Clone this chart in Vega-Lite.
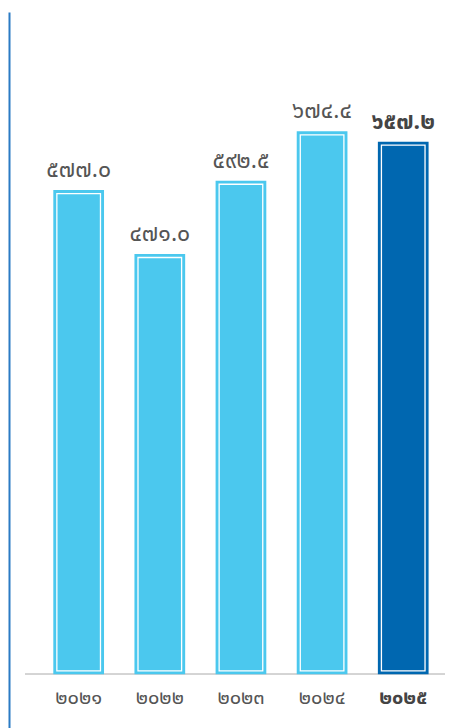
{
  "$schema": "https://vega.github.io/schema/vega-lite/v6.json",
  "width": 420,
  "height": 716,
  "autosize": {"type": "none"},
  "padding": {"left": 25, "top": 12, "right": 9, "bottom": 0},
  "background": "white",
  "config": {"view": {"stroke": null}, "font": "Noto Sans Thai"},
  "data": {
    "values": [
      {"year": "๒๐๒๑", "value": 577.0, "label": "๕๗๗.๐"},
      {"year": "๒๐๒๒", "value": 471.0, "label": "๔๗๑.๐"},
      {"year": "๒๐๒๓", "value": 592.5, "label": "๕๙๒.๕"},
      {"year": "๒๐๒๔", "value": 674.4, "label": "๖๗๔.๔"},
      {"year": "๒๐๒๕", "value": 657.2, "label": "๖๕๗.๒"}
    ]
  },
  "layer": [
    {
      "mark": {"type": "rule", "color": "#d4d4d4", "strokeWidth": 1.5},
      "encoding": {
        "y": {
          "datum": -226,
          "type": "quantitative",
          "scale": {"domain": [-315, 872.3], "nice": false, "zero": false},
          "axis": {"domain": true, "domainColor": "#2b7bc4", "domainWidth": 2, "ticks": false, "labels": false, "grid": false, "title": null, "offset": 16}
        }
      }
    },
    {
      "mark": {"type": "bar"},
      "encoding": {
        "x": {
          "field": "year", "type": "nominal", "sort": null,
          "scale": {"paddingInner": 0.375, "paddingOuter": 0.2756, "align": 0.633},
          "axis": {
            "title": null, "domain": false, "ticks": false, "tickSize": 0, "labelPadding": 0,
            "labelBaseline": "alphabetic", "offset": -25, "labelAngle": 0, "labelFont": "Noto Sans Thai",
            "labelFontSize": 20, "labelColor": {"condition": {"test": "datum.value == '๒๐๒๕'", "value": "#444444"}, "value": "#555555"},
            "labelFontWeight": {"condition": {"test": "datum.value == '๒๐๒๕'", "value": "bold"}, "value": "normal"}
          }
        },
        "y": {"field": "value", "type": "quantitative"},
        "y2": {"datum": -226},
        "color": {
          "field": "year", "type": "nominal", "sort": null,
          "scale": {"domain": ["๒๐๒๑", "๒๐๒๒", "๒๐๒๓", "๒๐๒๔", "๒๐๒๕"], "range": ["#4bc8ee", "#4bc8ee", "#4bc8ee", "#4bc8ee", "#0067b0"]},
          "legend": null
        }
      }
    },
    {
      "mark": {"type": "bar", "fill": "transparent", "stroke": "white", "strokeWidth": 1.3, "width": {"band": 0.86}, "yOffset": 3.5, "y2Offset": -3.5},
      "encoding": {
        "x": {"field": "year", "type": "nominal", "sort": null},
        "y": {"field": "value", "type": "quantitative"},
        "y2": {"datum": -226}
      }
    },
    {
      "transform": [{"filter": "datum.year != '๒๐๒๕'"}],
      "mark": {"type": "text", "baseline": "alphabetic", "dy": -13, "fontSize": 23, "color": "#555555", "font": "Noto Sans Thai"},
      "encoding": {"x": {"field": "year", "type": "nominal", "sort": null}, "y": {"field": "value", "type": "quantitative"}, "text": {"field": "label"}}
    },
    {
      "transform": [{"filter": "datum.year == '๒๐๒๕'"}],
      "mark": {"type": "text", "baseline": "alphabetic", "dy": -13, "fontSize": 23, "fontWeight": "bold", "color": "#444444", "font": "Noto Sans Thai"},
      "encoding": {"x": {"field": "year", "type": "nominal", "sort": null}, "y": {"field": "value", "type": "quantitative"}, "text": {"field": "label"}}
    }
  ]
}
